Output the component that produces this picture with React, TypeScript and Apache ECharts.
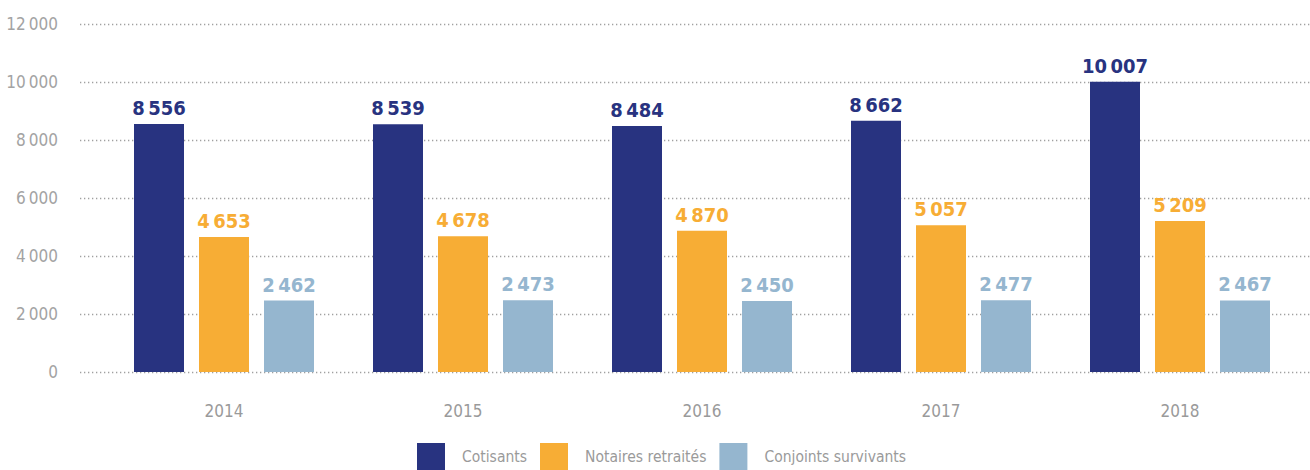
import React, { useEffect, useRef } from "react";
import * as echarts from "echarts";

const years = ["2014", "2015", "2016", "2017", "2018"];
const seriesNames = ["Cotisants", "Notaires retraités", "Conjoints survivants"];
const cotisants = [8556, 8539, 8484, 8662, 10007];
const retraites = [4653, 4678, 4870, 5057, 5209];
const conjoints = [2462, 2473, 2450, 2477, 2467];
const colors = ["#283380", "#f7ad35", "#95b6cf"];
const yTicks = [0, 2000, 4000, 6000, 8000, 10000, 12000];

const FONT = "'DejaVu Sans Condensed', 'Liberation Sans Narrow', 'Roboto', sans-serif";

const fmt = (v: number) => {
  const s = String(Math.round(v));
  return s.replace(/\B(?=(\d{3})+(?!\d))/g, "\u2009");
};

export default function App() {
  const ref = useRef<HTMLDivElement>(null);
  useEffect(() => {
    document.body.style.margin = "0";
    const chart = echarts.init(ref.current!, null, { renderer: "svg" });
    const allSeries = [cotisants, retraites, conjoints];
    chart.setOption({
      animation: false,
      grid: [
        { left: 80, right: 0, top: 24, height: 348 },
        { left: 104.5, width: 1195, top: 24, height: 348 },
      ],
      xAxis: [
        { type: "value", gridIndex: 0, min: 0, max: 1, show: false },
        {
          type: "category",
          gridIndex: 1,
          data: years,
          axisLine: { show: false },
          axisTick: { show: false },
          axisLabel: { margin: 30, color: "#9a9a9a", fontSize: 17, fontFamily: FONT },
        },
      ],
      yAxis: [
        {
          type: "value",
          gridIndex: 0,
          min: 0,
          max: yTicks[yTicks.length - 1],
          interval: 2000,
          axisLine: { show: false },
          axisTick: { show: false },
          axisLabel: {
            margin: 22,
            color: "#a3a3a3",
            fontSize: 17,
            fontFamily: FONT,
            formatter: (v: number) => fmt(v),
          },
          splitLine: { lineStyle: { color: "#a0a0a0", width: 1.3, type: [1.3, 2.7] } },
        },
        {
          type: "value",
          gridIndex: 1,
          min: 0,
          max: yTicks[yTicks.length - 1],
          interval: 2000,
          show: false,
          splitLine: { show: false },
        },
      ],
      legend: {
        data: seriesNames,
        left: 417,
        top: 443,
        padding: 0,
        itemWidth: 28,
        itemHeight: 28,
        itemGap: 13,
        icon: "rect",
        textStyle: { color: "#9a9a9a", fontSize: 15.5, fontFamily: FONT, padding: [9, 0, 0, 12] },
      },
      series: allSeries.map((d, i) => ({
        name: seriesNames[i],
        type: "bar",
        xAxisIndex: 1,
        yAxisIndex: 1,
        data: d,
        barWidth: 50,
        barGap: "30%",
        itemStyle: { color: colors[i] },
        label: {
          show: true,
          position: "top",
          distance: 6,
          color: colors[i],
          fontSize: 20,
          fontWeight: "bold",
          fontFamily: FONT,
          formatter: (p: any) => fmt(p.value),
        },
      })),
    });
    return () => chart.dispose();
  }, []);
  return <div ref={ref} style={{ width: 1310, height: 470 }} />;
}
